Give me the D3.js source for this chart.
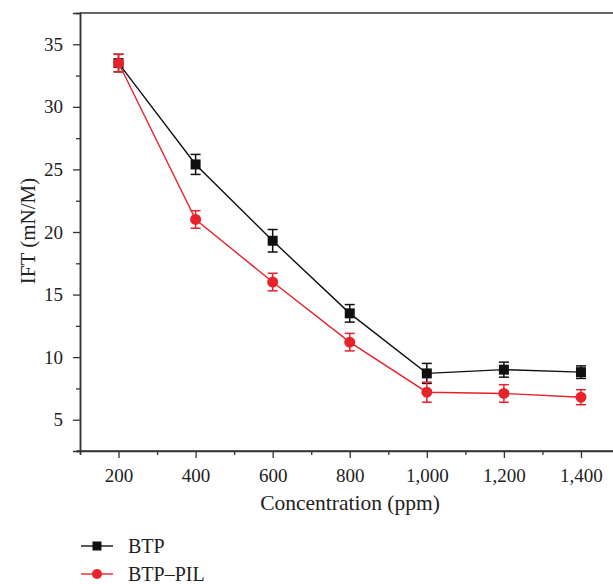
<!DOCTYPE html>
<html><head><meta charset="utf-8">
<script src="https://cdn.jsdelivr.net/npm/d3@7"></script>
<style>body{margin:0;background:#fff}svg{display:block}</style>
</head><body><svg id="c" width="613" height="584"></svg>
<script>
const concentrations = [200, 400, 600, 800, 1000, 1200, 1400];
const btp = [33.5, 25.4, 19.3, 13.5, 8.7, 9.0, 8.8];
const btpErr = [0.7, 0.8, 0.9, 0.7, 0.8, 0.6, 0.5];
const btpPil = [33.5, 21.0, 16.0, 11.2, 7.2, 7.1, 6.8];
const btpPilErr = [0.7, 0.7, 0.7, 0.7, 0.8, 0.7, 0.6];
const xTicks = [200, 400, 600, 800, 1000, 1200, 1400];
const yTicks = [5, 10, 15, 20, 25, 30, 35];
const seriesNames = ["BTP", "BTP\u2013PIL"];

const FONT = '"Liberation Serif","Times New Roman","DejaVu Serif",serif';
const svg = d3.select("#c").attr("font-family", FONT);
const x = d3.scaleLinear().domain([100, 1500]).range([80, 619.5]);
const y = d3.scaleLinear().domain([2.5, 37.5]).range([451, 13]);
const axisColor = "#333";
const textColor = "#222";

// top border
svg.append("line").attr("x1", 80).attr("x2", 613).attr("y1", 13).attr("y2", 13)
  .attr("stroke", axisColor).attr("stroke-width", 1.5);

// left axis
const gy = svg.append("g").attr("transform", "translate(80,0)");
gy.call(d3.axisLeft(y).tickValues(yTicks).tickSize(7).tickPadding(10).tickFormat(d3.format("d")));
gy.append("g").call(d3.axisLeft(y).tickValues(d3.range(7.5, 37.5, 5)).tickSize(4).tickFormat(""));
gy.selectAll("path.domain").attr("stroke", axisColor).attr("stroke-width", 1.5);
gy.selectAll(".tick line").attr("stroke", axisColor).attr("stroke-width", 1.3);
gy.attr("font-family", FONT).selectAll("g").attr("font-family", FONT);
gy.selectAll("text").style("font-family", FONT).style("font-size", "19px").attr("fill", textColor);

// bottom axis
const gx = svg.append("g").attr("transform", "translate(0,451)");
gx.call(d3.axisBottom(x).tickValues(xTicks).tickSize(7).tickPadding(10.5).tickFormat(d3.format(",")));
gx.append("g").call(d3.axisBottom(x).tickValues(d3.range(100, 1500, 200)).tickSize(4).tickFormat(""));
gx.selectAll("path.domain").attr("stroke", axisColor).attr("stroke-width", 1.5);
gx.selectAll(".tick line").attr("stroke", axisColor).attr("stroke-width", 1.3);
gx.selectAll("text").style("font-family", FONT).style("font-size", "19px").attr("fill", textColor);
gx.select("path.domain").attr("d", "M77,0H620");

// axis titles
svg.append("text").attr("x", 350).attr("y", 510).attr("text-anchor", "middle")
  .style("font-family", FONT).style("font-size", "21.5px").attr("fill", textColor).text("Concentration (ppm)");
svg.append("text").attr("transform", "translate(35,231) rotate(-90)").attr("text-anchor", "middle")
  .style("font-family", FONT).style("font-size", "21px").attr("fill", textColor).text("IFT (mN/M)");

const series = [
  {name: seriesNames[0], vals: btp, err: btpErr, color: "#111", shape: "square"},
  {name: seriesNames[1], vals: btpPil, err: btpPilErr, color: "#e8222b", shape: "circle"}
];
const line = d3.line().x(d => x(d[0])).y(d => y(d[1]));

series.forEach(s => {
  const pts = concentrations.map((c, i) => [c, s.vals[i], s.err[i]]);
  const g = svg.append("g");
  g.append("path").datum(pts).attr("d", line).attr("fill", "none")
    .attr("stroke", s.color).attr("stroke-width", 1.4);
  pts.forEach(p => {
    const cx = x(p[0]);
    const e = g.append("g").attr("stroke", s.color).attr("stroke-width", 1.5);
    e.append("line").attr("x1", cx).attr("x2", cx).attr("y1", y(p[1] - p[2])).attr("y2", y(p[1] + p[2]));
    e.append("line").attr("x1", cx - 5).attr("x2", cx + 5).attr("y1", y(p[1] - p[2])).attr("y2", y(p[1] - p[2]));
    e.append("line").attr("x1", cx - 5).attr("x2", cx + 5).attr("y1", y(p[1] + p[2])).attr("y2", y(p[1] + p[2]));
    if (s.shape === "square") {
      g.append("rect").attr("x", cx - 5).attr("y", y(p[1]) - 5).attr("width", 10).attr("height", 10).attr("fill", s.color);
    } else {
      g.append("circle").attr("cx", cx).attr("cy", y(p[1])).attr("r", 5.5).attr("fill", s.color);
    }
  });
});

// legend
series.forEach((s, i) => {
  const ly = 546 + i * 28;
  svg.append("line").attr("x1", 81).attr("x2", 113).attr("y1", ly).attr("y2", ly)
    .attr("stroke", s.color).attr("stroke-width", 1.4);
  if (s.shape === "square") {
    svg.append("rect").attr("x", 92.5).attr("y", ly - 4.5).attr("width", 9).attr("height", 9).attr("fill", s.color);
  } else {
    svg.append("circle").attr("cx", 97).attr("cy", ly).attr("r", 5).attr("fill", s.color);
  }
  svg.append("text").attr("x", 128).attr("y", ly + 7).style("font-family", FONT)
    .style("font-size", "20px").attr("fill", textColor).text(s.name);
});
</script></body></html>
